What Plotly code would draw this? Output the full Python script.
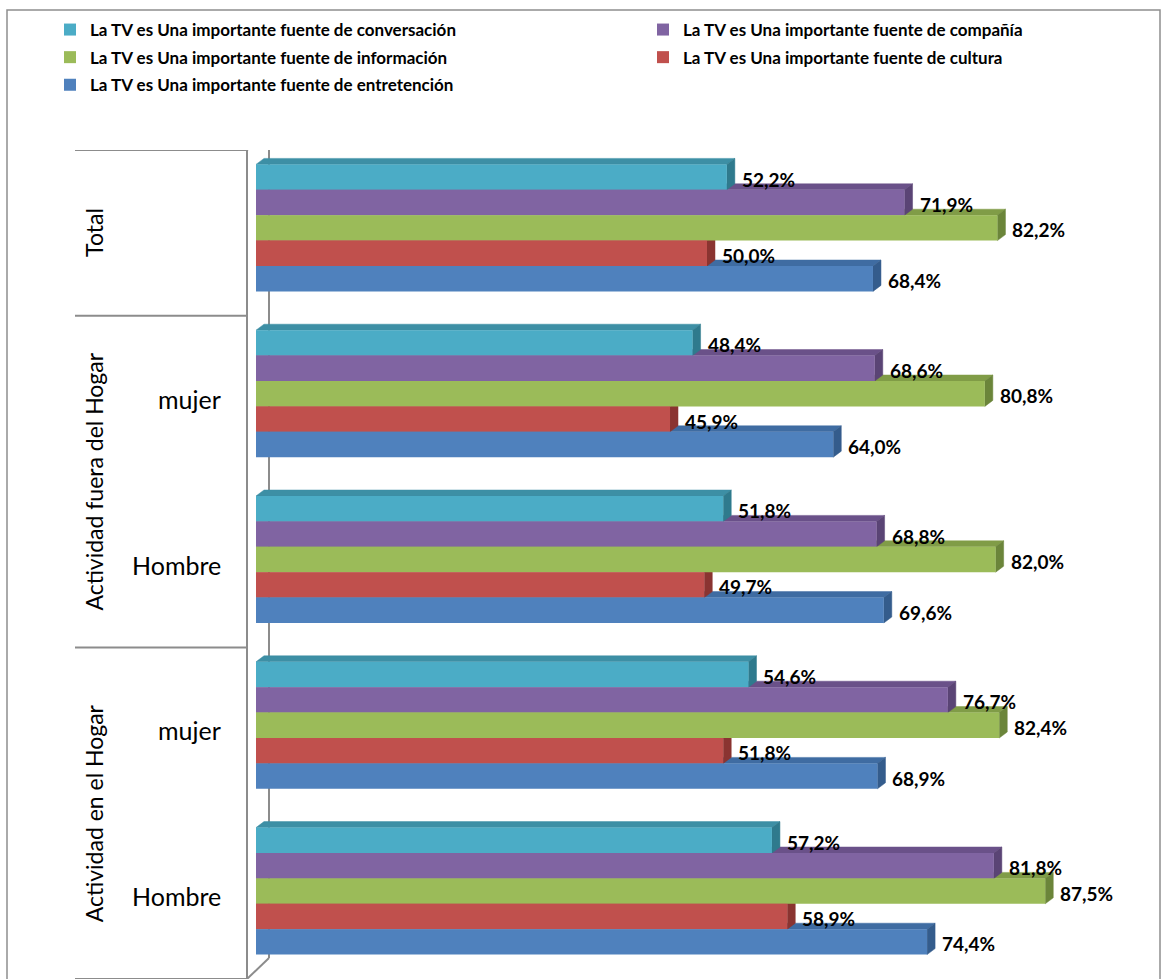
import plotly.graph_objects as go

# ---------------- data ----------------
outer_labels = ["Total", "Actividad fuera del Hogar", "Actividad en el Hogar"]
outer_spans = [(0, 0), (1, 2), (3, 4)]          # category index range of each outer label
inner_labels = ["", "mujer", "Hombre", "mujer", "Hombre"]

series_names = [
    "La TV es Una importante fuente de conversación",
    "La TV es Una importante fuente de compañía",
    "La TV es Una importante fuente de información",
    "La TV es Una importante fuente de cultura",
    "La TV es Una importante fuente de entretención",
]
conversacion = [52.2, 48.4, 51.8, 54.6, 57.2]
compania = [71.9, 68.6, 68.8, 76.7, 81.8]
informacion = [82.2, 80.8, 82.0, 82.4, 87.5]
cultura = [50.0, 45.9, 49.7, 51.8, 58.9]
entretencion = [68.4, 64.0, 69.6, 68.9, 74.4]
series_values = [conversacion, compania, informacion, cultura, entretencion]

# ---------------- style ----------------
front_colors = ["#4BACC6", "#8064A2", "#9BBB59", "#C0504D", "#4F81BD"]
top_colors = ["#3D8FA5", "#6A5189", "#809C47", "#A33F3C", "#3F6CA2"]
side_colors = ["#2F7A8D", "#5A4475", "#6B853A", "#8A3431", "#345C8C"]

W, H = 1169, 979
ML, MR, MT, MB = 256, 11, 150, 0
XMAX = 100.0
PW = W - ML - MR
PH = H - MT - MB
n_cat = len(inner_labels)
px_x = PW / XMAX          # pixels per x unit
px_y = PH / n_cat         # pixels per y unit

bar_h = 25.4 / px_y       # bar thickness in y units
dx = 8.0 / px_x           # depth offset (x)
dy = 6.0 / px_y           # depth offset (y, upward)
grp_shift = -5.0 / px_y

def center(i, k):
    return i + grp_shift + (k - 2) * bar_h

fig = go.Figure()

# depth faces (top + side), painted from lowest bar to highest bar
for k in range(4, -1, -1):
    vals = series_values[k]
    tx, ty, sx, sy = [], [], [], []
    for i, v in enumerate(vals):
        c = center(i, k)
        top = c - bar_h / 2
        bot = c + bar_h / 2
        tx += [0, v, v + dx, dx, 0, None]
        ty += [top, top, top - dy, top - dy, top, None]
        sx += [v, v + dx, v + dx, v, v, None]
        sy += [top, top - dy, bot - dy, bot, top, None]
    fig.add_trace(go.Scatter(x=tx, y=ty, mode="lines", fill="toself",
                             fillcolor=top_colors[k],
                             line=dict(color=top_colors[k], width=0.5),
                             hoverinfo="skip", showlegend=False, zorder=0))
    fig.add_trace(go.Scatter(x=sx, y=sy, mode="lines", fill="toself",
                             fillcolor=side_colors[k],
                             line=dict(color=side_colors[k], width=0.5),
                             hoverinfo="skip", showlegend=False, zorder=0))

# front faces
legend_of = ["legend", "legend2", "legend", "legend2", "legend"]
for k, (name, vals) in enumerate(zip(series_names, series_values)):
    fig.add_trace(go.Bar(
        x=vals, y=[center(i, k) for i in range(n_cat)],
        orientation="h", width=bar_h, name=name,
        marker=dict(color=front_colors[k], line=dict(width=0)),
        legend=legend_of[k], legendgroup=name, zorder=1,
    ))

annotations = []
# data labels
for k, vals in enumerate(series_values):
    for i, v in enumerate(vals):
        annotations.append(dict(
            x=v, y=center(i, k), xref="x", yref="y",
            text=f"{v:.1f}".replace(".", ",") + "%",
            showarrow=False, xanchor="left", yanchor="middle",
            xshift=13, yshift=-2,
            font=dict(family="Lato", size=19, color="#000000", weight="bold"),
        ))

def paper_x(px):
    return (px - ML) / PW

def paper_y(py):
    return (H - MB - py) / PH

# category labels
for i, lab in enumerate(inner_labels):
    if lab:
        annotations.append(dict(
            x=paper_x(223), y=i, xref="paper", yref="y", text=lab,
            showarrow=False, xanchor="right", yanchor="middle",
            font=dict(family="Lato", size=25, color="#000000"),
        ))
for lab, (a, b) in zip(outer_labels, outer_spans):
    annotations.append(dict(
        x=paper_x(94), y=(a + b) / 2, xref="paper", yref="y", text=lab,
        showarrow=False, textangle=-90, xanchor="center", yanchor="middle",
        font=dict(family="Lato", size=23, color="#000000"),
    ))

shapes = []
grey = "#8C8C8C"
# outer frame
shapes.append(dict(type="rect", xref="paper", yref="paper",
                   x0=paper_x(7), x1=paper_x(1160), y0=paper_y(990), y1=paper_y(10),
                   line=dict(color="#8E8E8E", width=1.5), fillcolor="rgba(0,0,0,0)"))
# category separators
for yb in [-0.5, 0.5, 2.5, 4.5]:
    shapes.append(dict(type="line", xref="paper", yref="y",
                       x0=paper_x(75), x1=paper_x(247), y0=yb, y1=yb,
                       line=dict(color=grey, width=2)))
# front axis line
shapes.append(dict(type="line", xref="paper", yref="y",
                   x0=paper_x(247), x1=paper_x(247), y0=-0.5, y1=4.5,
                   line=dict(color=grey, width=2)))
# back wall line and floor/top diagonals
y_top_back = -0.5 - 16 / px_y
y_bot_back = 4.5 - 21 / px_y
shapes.append(dict(type="line", xref="paper", yref="y", layer="below",
                   x0=paper_x(269), x1=paper_x(269), y0=y_top_back, y1=y_bot_back,
                   line=dict(color=grey, width=2)))
shapes.append(dict(type="line", xref="paper", yref="y",
                   x0=paper_x(247), x1=paper_x(269), y0=-0.5, y1=y_top_back,
                   line=dict(color=grey, width=2)))
shapes.append(dict(type="line", xref="paper", yref="y",
                   x0=paper_x(247), x1=paper_x(269), y0=4.5, y1=y_bot_back,
                   line=dict(color=grey, width=2)))

legend_font = dict(family="Lato", size=17, color="#000000", weight="bold")
fig.update_layout(
    width=W, height=H,
    margin=dict(l=ML, r=MR, t=MT, b=MB),
    paper_bgcolor="white", plot_bgcolor="white",
    barmode="overlay",
    xaxis=dict(range=[0, XMAX], visible=False, fixedrange=True),
    yaxis=dict(range=[n_cat - 0.5, -0.5], visible=False, fixedrange=True),
    annotations=annotations, shapes=shapes,
    legend=dict(x=paper_x(50), y=paper_y(12), xanchor="left", yanchor="top",
                orientation="v", font=legend_font, tracegroupgap=2.5,
                traceorder="grouped", bgcolor="rgba(0,0,0,0)", itemclick=False),
    legend2=dict(x=paper_x(643), y=paper_y(12), xanchor="left", yanchor="top",
                 orientation="v", font=legend_font, tracegroupgap=2.5,
                 traceorder="grouped", bgcolor="rgba(0,0,0,0)", itemclick=False),
    showlegend=True,
)

fig.write_html("out.html")
